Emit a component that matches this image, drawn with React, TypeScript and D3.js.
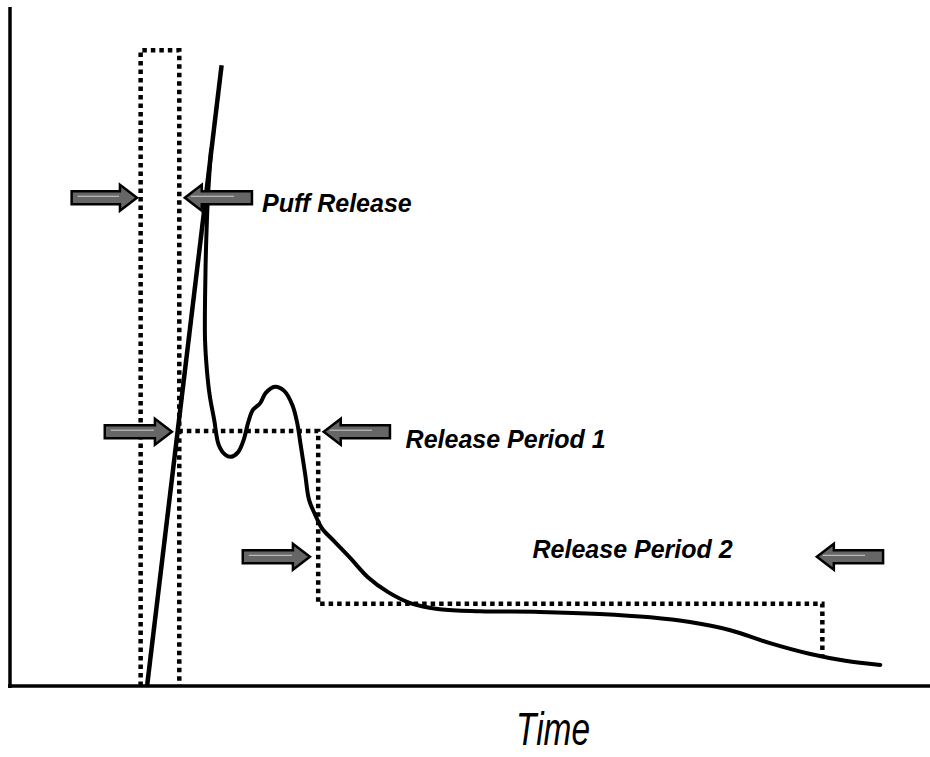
import React from "react";
import * as d3 from "d3";

// Conceptual release profile (time units 0-100, concentration units 0-100)
const risingLine: [number, number][] = [
  [14.9, 0],
  [23.0, 91.3],
];

const releaseCurve: [number, number][] = [
  [21.85, 78.8], [21.5, 71.5], [21.3, 64.1], [21.2, 56.8], [21.2, 50.9],
  [21.4, 46.5], [21.7, 42.8], [22.2, 39.1], [22.7, 35.4], [23.4, 34.0],
  [24.0, 33.7], [24.8, 34.4], [25.4, 36.2], [25.9, 38.8], [26.4, 40.6],
  [27.2, 41.6], [27.8, 43.1], [28.8, 44.0], [29.8, 43.4], [30.7, 41.3],
  [31.2, 38.8], [31.6, 35.4], [32.1, 31.0], [32.5, 27.4], [33.2, 25.1],
  [33.9, 23.2], [35.3, 21.2], [37.0, 18.8], [38.9, 16.0], [41.1, 13.8],
  [43.5, 12.2], [46.7, 11.3], [51.1, 11.0], [57.6, 10.9], [64.1, 10.6],
  [69.6, 10.1], [73.9, 9.4], [78.3, 8.2], [82.6, 6.3], [87.0, 4.7],
  [90.8, 3.7], [94.6, 3.1],
];

const puffWindow: [number, number][] = [
  [14.2, 0], [14.2, 93.5], [18.4, 93.5], [18.4, 0],
];

const periodWindows: [number, number][] = [
  [18.3, 37.5], [33.5, 37.5], [33.5, 12.1], [88.3, 12.1], [88.3, 4.6],
];

// arrows: tail t, tip t, level c
const arrowTails = [6.7, 26.3, 10.3, 41.3, 25.3, 94.9];
const arrowTips = [13.8, 19.0, 17.6, 34.1, 32.6, 87.7];
const arrowLevels = [71.8, 71.8, 37.4, 37.4, 19.0, 19.0];

const labelTexts = ["Puff Release", "Release Period 1", "Release Period 2"];
const labelT = [27.4, 43.0, 56.8];
const labelC = [69.7, 35.0, 18.8];

const axisTitle = "Time";

const W = 930;
const H = 757;

export default function App() {
  const x = d3.scaleLinear().domain([0, 100]).range([10, 930]);
  const y = d3.scaleLinear().domain([0, 100]).range([686, 6]);

  const line = d3
    .line<[number, number]>()
    .x((d) => x(d[0]))
    .y((d) => y(d[1]));
  const smooth = d3
    .line<[number, number]>()
    .x((d) => x(d[0]))
    .y((d) => y(d[1]))
    .curve(d3.curveCatmullRom.alpha(0.5));

  const arrowPath = (tail: number, tip: number, lvl: number) => {
    const x0 = x(tail);
    const x1 = x(tip);
    const cy = y(lvl);
    const dir = x1 > x0 ? 1 : -1;
    const headLen = 17;
    const bodyH = 6.5;
    const headH = 13;
    const xh = x1 - dir * headLen;
    const pts = [
      [x0, cy - bodyH],
      [xh, cy - bodyH],
      [xh, cy - headH],
      [x1, cy],
      [xh, cy + headH],
      [xh, cy + bodyH],
      [x0, cy + bodyH],
    ];
    return "M" + pts.map((p) => p.join(",")).join("L") + "Z";
  };

  const font = "Liberation Sans, Arial, Helvetica, sans-serif";

  return (
    <svg
      width={W}
      height={H}
      style={{ position: "absolute", left: 0, top: 0, background: "#fff" }}
    >
      {/* axes */}
      <line x1={x(0)} y1={7} x2={x(0)} y2={y(0) + 2} stroke="#000" strokeWidth={3.5} />
      <line x1={8} y1={y(0)} x2={930} y2={y(0)} stroke="#000" strokeWidth={3.5} />

      {/* dotted windows */}
      <path
        d={line(puffWindow) || ""}
        fill="none"
        stroke="#000"
        strokeWidth={4.5}
        strokeDasharray="4.5 4"
      />
      <path
        d={line(periodWindows) || ""}
        fill="none"
        stroke="#000"
        strokeWidth={4.5}
        strokeDasharray="4.5 4"
      />

      {/* rising line */}
      <path d={line(risingLine) || ""} fill="none" stroke="#000" strokeWidth={4.5} />
      {/* release curve */}
      <path
        d={smooth(releaseCurve) || ""}
        fill="none"
        stroke="#000"
        strokeWidth={4}
        strokeLinejoin="round"
        strokeLinecap="round"
      />

      {/* arrows */}
      {arrowTails.map((t, i) => (
        <g key={i}>
          <path
            d={arrowPath(t, arrowTips[i], arrowLevels[i])}
            fill="#666"
            stroke="#000"
            strokeWidth={2.5}
            strokeLinejoin="miter"
          />
          <line
            x1={Math.min(x(t), x(arrowTips[i])) + 6}
            x2={Math.max(x(t), x(arrowTips[i])) - 18}
            y1={y(arrowLevels[i]) - 1.5}
            y2={y(arrowLevels[i]) - 1.5}
            stroke="#cfcfcf"
            strokeWidth={1}
          />
        </g>
      ))}

      {/* labels */}
      {labelTexts.map((s, i) => (
        <text
          key={s}
          x={x(labelT[i])}
          y={y(labelC[i])}
          fontFamily={font}
          fontStyle="italic"
          fontWeight="bold"
          fontSize={25}
          fill="#000"
        >
          {s}
        </text>
      ))}

      <text
        x={516}
        y={745}
        fontFamily={font}
        fontStyle="italic"
        fontSize={46}
        textLength={74}
        lengthAdjust="spacingAndGlyphs"
        fill="#000"
      >
        {axisTitle}
      </text>
    </svg>
  );
}
